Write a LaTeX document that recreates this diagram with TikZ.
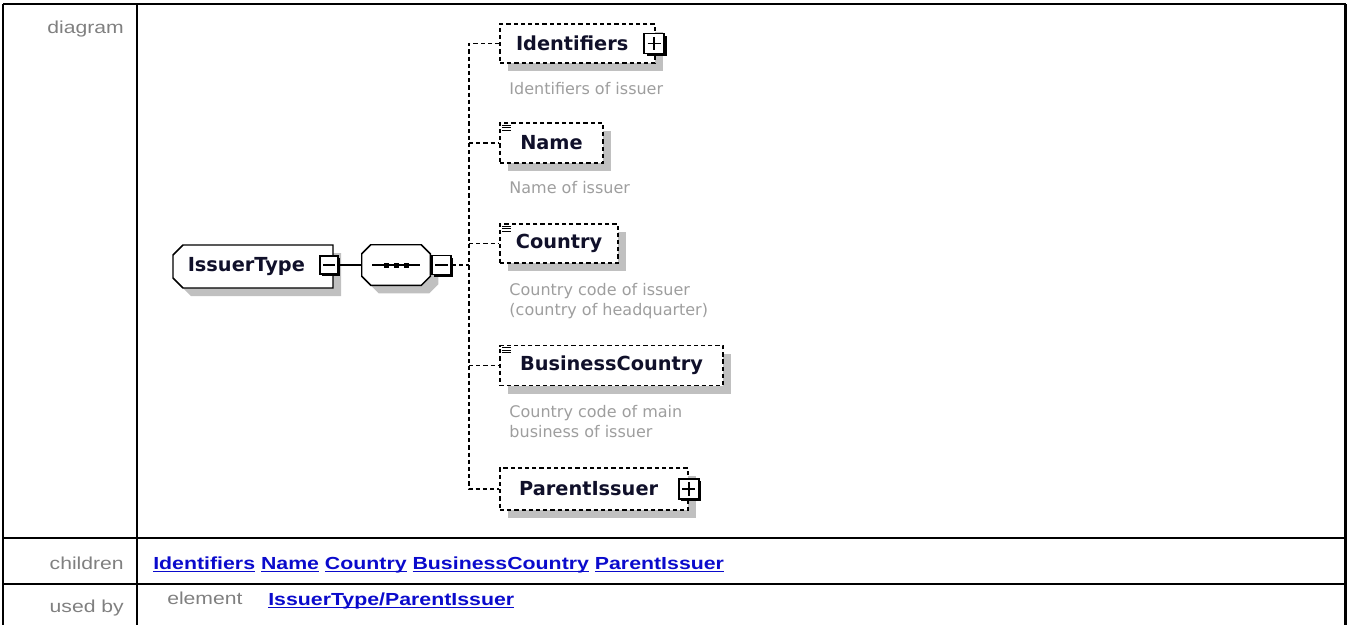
\documentclass[tikz,border=0pt]{standalone}
\usepackage{fontspec}
\usetikzlibrary{shapes.misc,shadows,calc}
\setmainfont{Liberation Sans}
\newfontfamily\tblfont[FakeStretch=1.22]{Liberation Sans}
\newfontfamily\dgfont{DejaVu Sans}
\definecolor{nodetext}{HTML}{10102A}
\definecolor{captext}{HTML}{9E9E9E}
\definecolor{lbltext}{HTML}{808080}
\definecolor{linkblue}{HTML}{0A0ACC}
\definecolor{shadowgray}{HTML}{C0C0C0}
\newsavebox\lnkbox
\newcommand\lnk[1]{\sbox\lnkbox{#1}\rlap{\rule[-2.3pt]{\wd\lnkbox}{0.9pt}}\usebox\lnkbox}
\tikzset{
  bx/.style 2 args={minimum width=#1*0.75pt, minimum height=#2*0.75pt},
  dashline/.style={line width=1.2pt, dash pattern=on 3.2pt off 2.2pt},
  shad/.style={drop shadow={shadow xshift=6pt, shadow yshift=-6pt, fill=shadowgray, opacity=1}},
  elbox/.style={draw, dashline, fill=white, inner sep=0pt, shad,
    font=\dgfont\bfseries\fontsize{14.5}{17}\selectfont, text=nodetext},
  typebox/.style={draw, line width=1.1pt, fill=white, inner sep=0pt, shad,
    chamfered rectangle, chamfered rectangle corners={north west,south west},
    chamfered rectangle xsep=5*0.75pt, chamfered rectangle ysep=5*0.75pt,
    font=\dgfont\bfseries\fontsize{14.5}{17}\selectfont, text=nodetext},
  seqframe/.style={inner sep=0pt},
  octo/.style={line width=1.1pt},
  sqbox/.style={draw, line width=1.3pt, fill=white, inner sep=0pt, minimum size=#1*0.75pt,
    drop shadow={shadow xshift=1.8pt, shadow yshift=-1.8pt, fill=black, opacity=1}},
  minusbox/.style={sqbox=#1, path picture={\draw[line width=1.1pt]
      ([xshift=2.5pt]path picture bounding box.west) -- ([xshift=-2.5pt]path picture bounding box.east);}},
  plusbox/.style={sqbox=#1, path picture={\draw[line width=1.1pt]
      ([xshift=2.5pt]path picture bounding box.west) -- ([xshift=-2.5pt]path picture bounding box.east)
      ([yshift=-2.5pt]path picture bounding box.north) -- ([yshift=2.5pt]path picture bounding box.south);}},
  conn/.style={line width=1.2pt},
  captxt/.style={font=\dgfont\fontsize{12}{15}\selectfont, text=captext, inner sep=0pt, align=left},
  lbl/.style={font=\tblfont\fontsize{13}{15}\selectfont, text=lbltext, inner sep=0pt},
  lnkstyle/.style={font=\tblfont\bfseries\fontsize{13.1}{15}\selectfont, text=linkblue, inner sep=0pt},
  tblline/.style={line width=1.6pt}
}
\begin{document}
\begin{tikzpicture}[x=0.75pt,y=-0.75pt]
\useasboundingbox (0,0) rectangle (1347,625);
% table
\draw[tblline] (3,4) -- (1345.5,4);
\draw[tblline] (3,4) -- (3,625);
\draw[tblline] (1345.5,4) -- (1345.5,625);
\draw[tblline] (137,4) -- (137,625);
\draw[tblline] (3,538) -- (1345.5,538);
\draw[tblline] (3,584) -- (1345.5,584);
% row labels
\node[lbl, anchor=base east] (ldiag) at (124,33) {diagram};
\node[lbl, anchor=base east] (lchild) at (124,569) {children};
\node[lbl, anchor=base east] (lused) at (124,612) {used by};
\node[lbl, anchor=base west] (lelem) at (167,604) {element};
\node[lnkstyle, anchor=base west] (children) at (153,569)
  {\lnk{Identifiers} \lnk{Name} \lnk{Country} \lnk{BusinessCountry} \lnk{ParentIssuer}};
\node[lnkstyle, anchor=base west] (usedby) at (268,605) {\lnk{IssuerType/ParentIssuer}};
% diagram
\node[typebox, bx={160}{43}] (issuer) at (253,266.5) {\hspace*{-10pt}IssuerType};
\node[minusbox=18] (itminus) at (329,265) {};
% sequence compositor
\node[seqframe, bx={68}{40}] (seq) at (396,265) {};
\fill[shadowgray] ($(seq.north west)+(17,8)$) -- ($(seq.north east)+(-1,8)$) -- ($(seq.north east)+(8,17)$)
  -- ($(seq.south east)+(8,-1)$) -- ($(seq.south east)+(-1,8)$) -- ($(seq.south west)+(17,8)$)
  -- ($(seq.south west)+(8,-1)$) -- ($(seq.north west)+(8,17)$) -- cycle;
\filldraw[octo, fill=white] ($(seq.north west)+(9,0)$) -- ($(seq.north east)+(-9,0)$) -- ($(seq.north east)+(0,9)$)
  -- ($(seq.south east)+(0,-9)$) -- ($(seq.south east)+(-9,0)$) -- ($(seq.south west)+(9,0)$)
  -- ($(seq.south west)+(0,-9)$) -- ($(seq.north west)+(0,9)$) -- cycle;
\draw[line width=1.1pt] (seq.center) ++(-24,0) -- ++(48,0);
\fill (seq.center) ++(-12.5,-2.5) rectangle ++(5,5);
\fill (seq.center) ++(-2.5,-2.5) rectangle ++(5,5);
\fill (seq.center) ++(7.5,-2.5) rectangle ++(5,5);
\node[minusbox=19] (seqminus) at (441.5,265) {};
\draw[conn] (itminus.east) -- (seq.west |- itminus.east);
\coordinate (spine) at (469,265);

\node[elbox, bx={155}{39}] (ident) at (577.5,43.5) {Identifiers\hspace*{8pt}};
\node[plusbox=20] (identplus) at ([xshift=-1.2pt]ident.east) {};
\node[elbox, bx={103}{40}] (name) at (551.5,143) {Name};
\node[elbox, bx={118}{39}] (country) at (559,243.5) {Country};
\node[elbox, bx={223}{40}] (bc) at (611.5,365.5) {BusinessCountry};
\node[elbox, bx={188}{42}] (pi) at (594,489) {ParentIssuer\hspace*{8pt}};
\node[plusbox=20] (piplus) at (pi.east) {};

\foreach \n in {name,country,bc}{
  \draw[line width=0.8pt] ($(\n.north west)+(3,3)$) -- ++(9,0);
  \draw[line width=0.8pt] ($(\n.north west)+(3,5.5)$) -- ++(9,0);
  \draw[line width=0.8pt] ($(\n.north west)+(3,8)$) -- ++(9,0);
}

\draw[dashline] (seqminus.east) -- (spine);
\draw[dashline] (ident.west) -- (ident.west -| spine) -- (pi.west -| spine) -- (pi.west);
\draw[dashline] (name.west -| spine) -- (name.west);
\draw[dashline] (country.west -| spine) -- (country.west);
\draw[dashline] (bc.west -| spine) -- (bc.west);

\node[captxt, anchor=base west] (identcap) at ($(ident.south west)+(10,31)$) {Identifiers of issuer};
\node[captxt, anchor=base west] (namecap) at ($(name.south west)+(10,30)$) {Name of issuer};
\node[captxt, anchor=base west] (countrycap) at ($(country.south west)+(10,52)$) {Country code of issuer\\(country of headquarter)};
\node[captxt, anchor=base west] (bccap) at ($(bc.south west)+(10,51)$) {Country code of main\\business of issuer};
\end{tikzpicture}
\end{document}
